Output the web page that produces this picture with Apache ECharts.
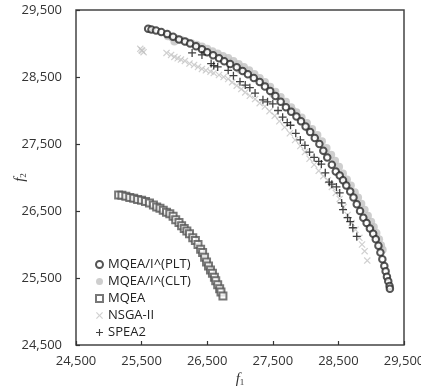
<!DOCTYPE html>
<html><head><meta charset="utf-8">
<script src="https://cdn.jsdelivr.net/npm/echarts@6/dist/echarts.min.js"></script>
<style>html,body{margin:0;padding:0;background:#fff}#c{width:421px;height:387px}</style>
</head><body><div id="c"></div>
<script>
const seriesNames = ['MQEA/I^(PLT)','MQEA/I^(CLT)','MQEA','NSGA-II','SPEA2'];
const xTicks = [24500,25500,26500,27500,28500,29500];
const yTicks = [24500,25500,26500,27500,28500,29500];

const plt = [[25600,29220],[25650,29210],[25720,29195],[25800,29170],[25890,29140],[25980,29100],[26070,29060],[26160,29030],[26240,29000],[26330,28960],[26420,28915],[26500,28870],[26590,28825],[26680,28780],[26760,28735],[26850,28695],[26950,28645],[27040,28590],[27120,28540],[27210,28485],[27300,28425],[27380,28360],[27460,28290],[27540,28215],[27620,28130],[27700,28050],[27780,27980],[27860,27910],[27930,27840],[28000,27760],[28070,27680],[28140,27590],[28210,27500],[28270,27400],[28330,27300],[28400,27190],[28460,27090],[28520,27030],[28570,26960],[28620,26880],[28680,26790],[28730,26700],[28780,26600],[28830,26500],[28880,26400],[28930,26320],[28980,26240],[29030,26160],[29070,26080],[29110,25980],[29140,25880],[29170,25780],[29200,25680],[29220,25600],[29240,25520],[29260,25450],[29280,25380],[29285,25340]];

const clt = [[25900,29110],[25960,29095],[26030,29075],[26100,29055],[26180,29030],[26260,29005],[26340,28980],[26420,28955],[26500,28920],[26580,28885],[26660,28850],[26740,28815],[26820,28785],[26900,28740],[26980,28695],[27060,28650],[27140,28600],[27220,28545],[27300,28485],[27380,28425],[27460,28355],[27540,28280],[27620,28200],[27700,28130],[27780,28050],[27860,27975],[27940,27895],[28020,27815],[28100,27725],[28180,27635],[28250,27540],[28320,27440],[28390,27340],[28450,27250],[28510,27160],[28570,27060],[28630,26970],[28690,26880],[28750,26780],[28800,26700],[28850,26610],[28900,26520],[28950,26430],[29000,26340],[29040,26260],[29080,26170],[29120,26080],[29150,25990],[29175,25920],[26000,29030],[26450,28890],[27000,28610],[27500,28250],[28050,27720],[28600,26940],[29000,26250],[27800,28000],[28300,27380]];

const mqea = [[25150,26740],[25200,26735],[25260,26720],[25320,26700],[25380,26690],[25440,26670],[25500,26660],[25560,26640],[25620,26620],[25680,26590],[25730,26560],[25780,26540],[25830,26510],[25880,26480],[25930,26460],[25980,26420],[26020,26370],[26070,26330],[26110,26280],[26150,26240],[26190,26200],[26230,26160],[26280,26100],[26320,26060],[26360,26000],[26400,25930],[26430,25880],[26460,25810],[26490,25740],[26520,25680],[26550,25620],[26580,25570],[26610,25510],[26630,25460],[26660,25400],[26690,25340],[26710,25290],[26740,25230]];

const nsga = [[25480,28920],[25510,28890],[25530,28870],[25500,28900],[25880,28860],[25950,28830],[26000,28800],[26050,28780],[26100,28760],[26160,28740],[26230,28700],[26300,28680],[26360,28650],[26420,28620],[26480,28600],[26550,28580],[26600,28560],[26680,28530],[26750,28500],[26820,28470],[26880,28420],[26950,28370],[27020,28320],[27080,28270],[27150,28220],[27230,28170],[27300,28110],[27380,28060],[27450,27990],[27530,27920],[27600,27840],[27680,27750],[27760,27660],[27840,27560],[27920,27470],[27990,27380],[28060,27280],[28130,27190],[28200,27100],[28270,27020],[28340,26960],[28400,26860],[28460,26770],[28520,26680],[28580,26560],[28640,26440],[28700,26320],[28760,26220],[28820,26100],[28860,26000],[28900,25900],[28940,25760]];

const spea = [[26270,28860],[26420,28830],[26560,28700],[26600,28670],[26660,28650],[26820,28600],[26900,28520],[27000,28430],[27080,28380],[27150,28340],[27230,28260],[27350,28160],[27420,28130],[27500,28100],[27580,28000],[27650,27900],[27720,27820],[27770,27780],[27850,27660],[27920,27560],[27990,27480],[28060,27380],[28130,27300],[28200,27240],[28240,27200],[28300,27070],[28360,26930],[28400,26900],[28470,26860],[28520,26770],[28550,26620],[28570,26520],[28640,26400],[28680,26340],[28720,26250],[28780,26120]];

const fmt = v => v.toLocaleString('en-US');
const FONT = 'Open Sans';
const xSym = 'path://M0,1.2L1.2,0L5,3.8L8.8,0L10,1.2L6.2,5L10,8.8L8.8,10L5,6.2L1.2,10L0,8.8L3.8,5Z';
const pSym = 'path://M4.2,0H5.8V4.2H10V5.8H5.8V10H4.2V5.8H0V4.2H4.2Z';

const chart = echarts.init(document.getElementById('c'), null, {renderer:'canvas'});
const axisCommon = {
  type:'value', min:24500, max:29500, interval:1000,
  axisLine:{show:false},
  axisTick:{show:true, inside:true, length:4, lineStyle:{color:'#333', width:1.2}},
  splitLine:{show:false},
  axisLabel:{color:'#333', fontFamily:FONT, fontSize:13, formatter:fmt},
  nameLocation:'middle',
  nameMoveOverlap:false,
  nameTextStyle:{rich:{i:{fontFamily:'Liberation Serif', fontStyle:'italic', fontSize:15, color:'#333', lineHeight:16}, s:{fontFamily:'Liberation Serif', fontSize:9, color:'#333', lineHeight:16, verticalAlign:'bottom'}}}
};
chart.setOption({
  animation:false,
  grid:{left:76, right:17, top:10, bottom:42, show:true, borderColor:'#444', borderWidth:1.5, backgroundColor:'transparent', containLabel:false, outerBoundsMode:'none'},
  xAxis:Object.assign({}, axisCommon, {name:'{i|f}{s|1}', nameGap:26, axisLabel:Object.assign({}, axisCommon.axisLabel, {margin:10})}),
  yAxis:Object.assign({}, axisCommon, {name:'{i|f}{s|2}', nameGap:48, axisLabel:Object.assign({}, axisCommon.axisLabel, {margin:14})}),
  legend:{
    orient:'vertical', left:90, top:253, itemWidth:7, itemHeight:7, itemGap:4,
    textStyle:{fontFamily:FONT, fontSize:13, color:'#222'},
    data:seriesNames
  },
  series:[
    {name:seriesNames[0], type:'scatter', data:plt, symbol:'emptyCircle', symbolSize:6.5, z:4,
     itemStyle:{color:'#2a2a2a', borderColor:'#2a2a2a', borderWidth:0.9}},
    {name:seriesNames[1], type:'scatter', data:clt, symbol:'circle', symbolSize:8, z:1,
     itemStyle:{color:'#c2c2c2'}},
    {name:seriesNames[2], type:'scatter', data:mqea, symbol:'emptyRect', symbolSize:7, z:3,
     itemStyle:{color:'#555', borderColor:'#555', borderWidth:1.2}},
    {name:seriesNames[3], type:'scatter', data:nsga, symbol:xSym, symbolSize:7, z:2,
     itemStyle:{color:'#c4c4c4'}},
    {name:seriesNames[4], type:'scatter', data:spea, symbol:pSym, symbolSize:8, z:5,
     itemStyle:{color:'#111'}}
  ]
});
</script></body></html>
